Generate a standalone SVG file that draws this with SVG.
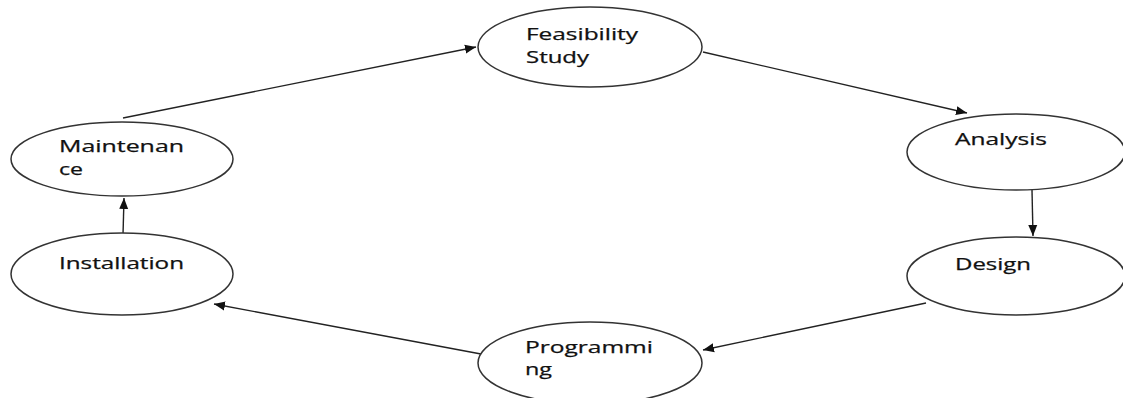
<svg xmlns="http://www.w3.org/2000/svg" width="1123" height="398" viewBox="0 0 1123 398">
  <style>
    .node ellipse { fill: #ffffff; stroke: #333333; stroke-width: 1.5; }
    .node text { font-family: "Open Sans", "Liberation Sans", sans-serif; font-size: 16px; fill: #111111; stroke: #111111; stroke-width: 0.25; }
    .edge { stroke: #222222; stroke-width: 1.4; fill: none; marker-end: url(#arrow); }
  </style>
  <defs>
    <marker id="arrow" viewBox="0 0 11 10" refX="11" refY="5" markerWidth="11" markerHeight="10" markerUnits="userSpaceOnUse" orient="auto">
      <path d="M0,0.5 L11,5 L0,9.5 Z" fill="#111111"/>
    </marker>
  </defs>
  <rect width="1123" height="398" fill="#ffffff"/>

  <g id="connectors">
    <line class="edge" x1="123" y1="118" x2="476" y2="47"/>
    <line class="edge" x1="703" y1="52" x2="967" y2="113"/>
    <line class="edge" x1="1032" y1="190" x2="1033" y2="236"/>
    <line class="edge" x1="926" y1="303" x2="703" y2="350"/>
    <line class="edge" x1="481" y1="354" x2="214" y2="304"/>
    <line class="edge" x1="123" y1="235" x2="124" y2="198"/>
  </g>

  <g id="feasibility" class="node">
    <ellipse cx="590" cy="47" rx="112" ry="40"/>
    <text x="526" y="40" textLength="112" lengthAdjust="spacingAndGlyphs">Feasibility</text>
    <text x="526" y="63" textLength="63" lengthAdjust="spacingAndGlyphs">Study</text>
  </g>

  <g id="analysis" class="node">
    <ellipse cx="1016" cy="152" rx="109" ry="38"/>
    <text x="955" y="145" textLength="92" lengthAdjust="spacingAndGlyphs">Analysis</text>
  </g>

  <g id="design" class="node">
    <ellipse cx="1016" cy="276" rx="109" ry="39"/>
    <text x="955" y="270" textLength="76" lengthAdjust="spacingAndGlyphs">Design</text>
  </g>

  <g id="programming" class="node">
    <ellipse cx="590" cy="363" rx="112" ry="41"/>
    <text x="525" y="353" textLength="128" lengthAdjust="spacingAndGlyphs">Programmi</text>
    <text x="525" y="375" textLength="27" lengthAdjust="spacingAndGlyphs">ng</text>
  </g>

  <g id="installation" class="node">
    <ellipse cx="122" cy="274" rx="111" ry="41"/>
    <text x="59" y="269" textLength="125" lengthAdjust="spacingAndGlyphs">Installation</text>
  </g>

  <g id="maintenance" class="node">
    <ellipse cx="122" cy="159" rx="111" ry="37"/>
    <text x="59" y="152" textLength="125" lengthAdjust="spacingAndGlyphs">Maintenan</text>
    <text x="59" y="175" textLength="24" lengthAdjust="spacingAndGlyphs">ce</text>
  </g>
</svg>
